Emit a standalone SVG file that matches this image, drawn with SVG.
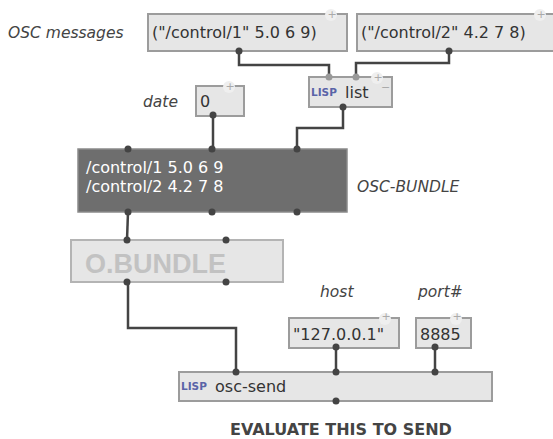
<svg xmlns="http://www.w3.org/2000/svg" width="553" height="439" viewBox="0 0 553 439">
<style>
.box{fill:#e6e6e6;stroke:#9c9c9c;stroke-width:2}
.t{font-family:"DejaVu Sans",Verdana,sans-serif;font-size:16px;fill:#333}
.lbl{font-family:"DejaVu Sans",Verdana,sans-serif;font-size:15.5px;font-style:italic;fill:#444}
.lisp{font-family:"DejaVu Sans",Verdana,sans-serif;font-size:10.5px;font-weight:bold;fill:#5a64a8}
.w{stroke:#444;stroke-width:2.5;fill:none}
.d{fill:#444}
.dl{fill:#999}
.tab{fill:#efefef;stroke:none}
.pl{font-family:"DejaVu Sans",sans-serif;font-size:11px;fill:#aaa}
</style>
<rect width="553" height="439" fill="#fff"/>
<text class="lbl" x="8" y="38">OSC messages</text>
<text class="lbl" x="143" y="107">date</text>
<text class="lbl" x="357" y="192">OSC-BUNDLE</text>
<text class="lbl" x="320" y="297">host</text>
<text class="lbl" x="418" y="297">port#</text>
<text x="230" y="435" font-family="DejaVu Sans,Verdana,sans-serif" font-size="16" font-weight="bold" fill="#444">EVALUATE THIS TO SEND</text>

<g id="connectors">
<polyline class="w" points="239,51 239,65 329,65 329,77"/>
<polyline class="w" points="449,51 449,63 356,63 356,77"/>
<polyline class="w" points="343,107 343,128 297,128 297,149"/>
<polyline class="w" points="213,115 213,149"/>
<polyline class="w" points="128,212 127,240"/>
<polyline class="w" points="128,282 128,328 236,328 236,372"/>
<polyline class="w" points="336,347 336,372"/>
<polyline class="w" points="435,347 435,372"/>
</g>

<g id="msg1">
<rect class="box" x="148" y="14" width="199" height="37"/>
<circle class="tab" cx="331" cy="15" r="6"/>
<text class="pl" x="327.5" y="18">+</text>
<text class="t" x="152" y="38">("/control/1" 5.0 6 9)</text>
<circle class="d" cx="239" cy="51" r="3.5"/>
</g>

<g id="msg2">
<rect class="box" x="357" y="14" width="200" height="37"/>
<circle class="tab" cx="540" cy="15" r="6"/>
<text class="pl" x="536.5" y="18">+</text>
<text class="t" x="361" y="38">("/control/2" 4.2 7 8)</text>
<circle class="d" cx="449" cy="51" r="3.5"/>
</g>

<g id="list">
<rect class="box" x="309" y="77" width="83" height="30"/>
<circle class="tab" cx="377" cy="78" r="6"/>
<text class="pl" x="373.5" y="81">+</text>
<text class="pl" x="381" y="91">−</text>
<text class="lisp" x="311" y="96">LISP</text>
<text class="t" x="345" y="98">list</text>
<circle class="dl" cx="329" cy="77" r="3.5"/>
<circle class="dl" cx="356" cy="77" r="3.5"/>
<circle class="d" cx="343" cy="107" r="3.5"/>
</g>

<g id="date">
<rect class="box" x="196" y="86" width="48" height="30"/>
<circle class="tab" cx="229" cy="87" r="6"/>
<text class="pl" x="225.5" y="90">+</text>
<text class="t" x="200" y="107">0</text>
<circle class="d" cx="213" cy="115" r="3.5"/>
</g>

<g id="oscbundle">
<rect x="78" y="149" width="269" height="63" fill="#6e6e6e" stroke="#8a8a8a" stroke-width="1.5"/>
<text class="t" x="86" y="173" style="fill:#fff">/control/1 5.0 6 9</text>
<text class="t" x="86" y="192" style="fill:#fff">/control/2 4.2 7 8</text>
<circle class="d" cx="128" cy="149" r="3.5"/>
<circle class="d" cx="212" cy="149" r="3.5"/>
<circle class="d" cx="297" cy="149" r="3.5"/>
<circle class="d" cx="128" cy="212" r="3.5"/>
<circle class="d" cx="212" cy="212" r="3.5"/>
<circle class="d" cx="297" cy="212" r="3.5"/>
</g>

<g id="obundle">
<rect x="71" y="240" width="212" height="42" fill="#e6e6e6" stroke="#b4b4b4" stroke-width="2"/>
<text x="85" y="273" font-family="Liberation Sans,Arial,sans-serif" font-size="27" font-weight="bold" fill="#c2c2c2">O.BUNDLE</text>
<circle class="d" cx="127" cy="240" r="3.5"/>
<circle class="d" cx="226" cy="240" r="3.5"/>
<circle class="d" cx="127" cy="282" r="3.5"/>
<circle class="d" cx="226" cy="282" r="3.5"/>
</g>

<g id="host">
<rect class="box" x="289" y="318" width="110" height="30"/>
<circle class="tab" cx="385" cy="319" r="6"/>
<text class="pl" x="381.5" y="320">+</text>
<text class="t" x="293" y="340">"127.0.0.1"</text>
<circle class="d" cx="336" cy="347" r="3.5"/>
</g>

<g id="port">
<rect class="box" x="416" y="318" width="55" height="30"/>
<circle class="tab" cx="456" cy="319" r="6"/>
<text class="pl" x="452.5" y="320">+</text>
<text class="t" x="420" y="340">8885</text>
<circle class="d" cx="435" cy="347" r="3.5"/>
</g>

<g id="oscsend">
<rect class="box" x="179" y="372" width="313" height="29"/>
<text class="lisp" x="181" y="390">LISP</text>
<text class="t" x="215" y="392">osc-send</text>
<circle class="d" cx="236" cy="372" r="3.5"/>
<circle class="d" cx="336" cy="372" r="3.5"/>
<circle class="d" cx="435" cy="372" r="3.5"/>
<circle class="d" cx="336" cy="401" r="3.5"/>
</g>
</svg>
